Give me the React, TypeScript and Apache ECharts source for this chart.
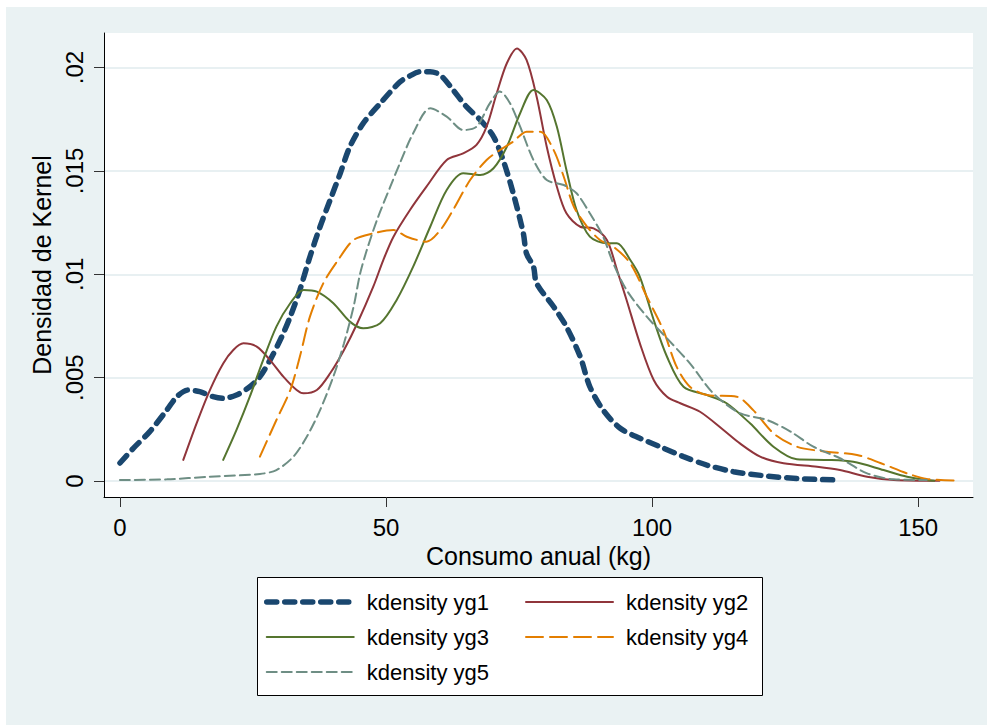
import React, { useEffect, useRef } from "react";
import * as echarts from "echarts";

const seriesNames = ["kdensity yg1", "kdensity yg2", "kdensity yg3", "kdensity yg4", "kdensity yg5"];
const xTicks = [0, 50, 100, 150];
const yTicks = [0, 0.005, 0.01, 0.015, 0.02];

const yg1: [number, number][] = [
  [0, 0.00087], [2.5, 0.00158], [5.6, 0.00239], [8.8, 0.00343], [10.7, 0.00408], [12.8, 0.0044],
  [15, 0.00432], [17.5, 0.00408], [19.4, 0.004], [21.9, 0.00416], [24.4, 0.00456], [26.3, 0.00505],
  [28.2, 0.00585], [30.4, 0.00698], [32, 0.00795], [33.8, 0.00924], [35.7, 0.01085], [37.6, 0.0123],
  [39.5, 0.0136], [41.4, 0.01489], [43.2, 0.01617], [45.7, 0.0173], [48.9, 0.01827], [52.6, 0.0193],
  [54.5, 0.0196], [56.4, 0.0198], [58.3, 0.0198], [60.2, 0.01964], [62.6, 0.01892], [65.1, 0.01811],
  [67.7, 0.01747], [70.2, 0.01666], [72, 0.01553], [73.9, 0.01392], [75.8, 0.01198], [76.4, 0.011],
  [77.7, 0.01037], [78.3, 0.00956], [81.5, 0.00843], [83.9, 0.00746], [86.5, 0.00601], [88.3, 0.00456],
  [90.8, 0.00343], [94, 0.00255], [97.7, 0.00207], [101.5, 0.00166], [105.9, 0.00118], [110.3, 0.00077],
  [115.3, 0.00045], [121.6, 0.00024], [127.8, 0.00011], [134.7, 0.00005],
];

const yg2: [number, number][] = [
  [11.9, 0.00102], [14.4, 0.00279], [16.9, 0.0044], [19.4, 0.00569], [21.3, 0.00634], [23.2, 0.00666],
  [25.7, 0.0065], [28.2, 0.00585], [30.7, 0.00505], [33.2, 0.0044], [34.5, 0.00424], [37, 0.0044],
  [39.5, 0.00521], [42.1, 0.00634], [44.6, 0.00763], [47.6, 0.0094], [49.5, 0.0107], [51.4, 0.01182],
  [54.5, 0.01311], [57.6, 0.01424], [61.4, 0.01553], [64.5, 0.01585], [67, 0.01626], [68.9, 0.01714],
  [70.8, 0.01876], [72.7, 0.02021], [74.6, 0.02093], [76.4, 0.02037], [78.3, 0.01859], [80.2, 0.01617],
  [82.1, 0.01424], [83.9, 0.01295], [86.5, 0.0123], [89, 0.01222], [91.5, 0.01166], [93.4, 0.01021],
  [95.2, 0.00876], [97.7, 0.00666], [100.3, 0.00489], [102.8, 0.00408], [105.3, 0.00376], [109, 0.00335],
  [113.4, 0.00247], [116.5, 0.00182], [120.3, 0.00118], [124.7, 0.00086], [131, 0.00069], [135.3, 0.00053],
  [140.4, 0.00021], [145.4, 0.00005], [154, 0.00001],
];

const yg3: [number, number][] = [
  [19.4, 0.00102], [21.9, 0.00247], [24.4, 0.00408], [26.9, 0.00585], [29.4, 0.00747], [32, 0.0086],
  [34.5, 0.00924], [37, 0.00916], [40.1, 0.0086], [43.2, 0.00771], [45.7, 0.00739], [48.9, 0.00763],
  [52, 0.00876], [55.1, 0.01037], [58.3, 0.0123], [61.4, 0.01408], [64.5, 0.01489], [67.7, 0.0148],
  [70.2, 0.01513], [72.7, 0.01617], [75.2, 0.01779], [77.7, 0.01892], [80.2, 0.01843], [82.1, 0.01714],
  [83.9, 0.01505], [85.8, 0.01311], [88.3, 0.01182], [91.5, 0.0115], [93.4, 0.0115], [95.9, 0.01069],
  [97.7, 0.00988], [100.3, 0.00779], [102.8, 0.00601], [105.9, 0.00456], [110.3, 0.00416], [114, 0.00376],
  [118.4, 0.00279], [122.8, 0.00166], [127.2, 0.00105], [132.8, 0.00102], [137.8, 0.00093], [143.5, 0.00053],
  [147.9, 0.00021], [151.6, 0.00005], [153, 0.00001],
];

const yg4: [number, number][] = [
  [26.3, 0.00118], [29.4, 0.00295], [32, 0.0044], [33.8, 0.00601], [35.7, 0.00795], [38.2, 0.00956],
  [41, 0.01069], [43.9, 0.01166], [47.6, 0.01198], [51.4, 0.01214], [53.9, 0.01182], [57.6, 0.01158],
  [60.2, 0.01214], [62.6, 0.01311], [65.8, 0.01456], [68.9, 0.01553], [71.4, 0.01601], [73.9, 0.01642],
  [76.4, 0.0169], [79, 0.0169], [81.5, 0.01601], [83.4, 0.01472], [85.3, 0.01327], [87.8, 0.0123],
  [90.2, 0.01166], [92.7, 0.01134], [95.9, 0.01053], [99, 0.00892], [102.1, 0.0073], [104.6, 0.00553],
  [107.1, 0.00456], [110.3, 0.00416], [115.9, 0.00408], [119, 0.00343], [122.8, 0.00231], [127.2, 0.00166],
  [132.8, 0.00142], [138.5, 0.00126], [143, 0.00086], [147.9, 0.00037], [151.6, 0.0001], [157.3, 0.00002],
];

const yg5: [number, number][] = [
  [0, 0.00005], [8.8, 0.00008], [16.9, 0.00021], [26.3, 0.00034], [29.4, 0.00053], [32.6, 0.00118],
  [35.1, 0.00214], [37.6, 0.00343], [40.1, 0.00505], [42.1, 0.00666], [43.9, 0.00843], [45.1, 0.01],
  [46.3, 0.0111], [48.3, 0.01263], [50.8, 0.01424], [52.6, 0.01537], [55.1, 0.01682], [58.3, 0.01803],
  [61.4, 0.01763], [64.5, 0.01698], [67, 0.01714], [69.5, 0.01827], [71.4, 0.01884], [73.3, 0.01827],
  [75.2, 0.01714], [77.7, 0.01553], [80.2, 0.01456], [83.4, 0.01432], [85.8, 0.01392], [88.3, 0.01295],
  [90.8, 0.01182], [92.7, 0.01053], [95.2, 0.00924], [99, 0.00795], [102.8, 0.0069], [107.1, 0.00569],
  [111.5, 0.00424], [116.5, 0.00328], [121.6, 0.00295], [126, 0.00239], [130.3, 0.00166], [135.3, 0.0011],
  [140.4, 0.00037], [145.4, 0.00008], [151.6, 0.00005],
];

const seriesData = [yg1, yg2, yg3, yg4, yg5];
const colors = ["#1A476F", "#90353B", "#55752F", "#E37E00", "#6E8E84"];
const widths = [5.5, 2, 2, 2, 2];
const dashes: (string | number[])[] = [[10, 8], "solid", "solid", [17, 7], [10, 5]];

const FONT = "'Liberation Sans', Arial, Helvetica, sans-serif";

export default function App() {
  const ref = useRef<HTMLDivElement>(null);
  useEffect(() => {
    if (!ref.current) return;
    const chart = echarts.init(ref.current, undefined, { renderer: "svg" });
    const legendCommon = {
      orient: "vertical",
      top: 591,
      padding: 0,
      itemWidth: 87,
      itemHeight: 14,
      itemGap: 13,
      selectedMode: false,
      itemStyle: { color: "transparent", borderColor: "transparent", borderWidth: 0, opacity: 0 },
      lineStyle: { width: "inherit", type: "inherit", cap: "inherit" },
      textStyle: {
        fontFamily: FONT,
        fontSize: 22,
        color: "#000",
        lineHeight: 22,
        padding: [0, 0, 0, 8],
      },
    };
    chart.setOption({
      animation: false,
      backgroundColor: "transparent",
      textStyle: { fontFamily: FONT },
      graphic: [
        {
          type: "rect",
          z: -10,
          silent: true,
          shape: { x: 6, y: 7, width: 981, height: 718 },
          style: { fill: "#EAF2F3" },
        },
        {
          type: "rect",
          z: 1,
          silent: true,
          shape: { x: 257.5, y: 577.5, width: 505, height: 118 },
          style: { fill: "#FFFFFF", stroke: "#000", lineWidth: 1 },
        },
      ],
      grid: {
        left: 104,
        right: 14,
        top: 33,
        bottom: 228,
        show: true,
        backgroundColor: "#FFFFFF",
        borderWidth: 0,
        containLabel: false,
      },
      legend: [
        { ...legendCommon, left: 264, data: [seriesNames[0], seriesNames[2], seriesNames[4]] },
        { ...legendCommon, left: 525, data: [seriesNames[1], seriesNames[3]] },
      ],
      xAxis: {
        type: "value",
        min: -3,
        max: 160.3,
        name: "Consumo anual (kg)",
        nameLocation: "middle",
        nameGap: 41,
        nameTextStyle: { fontFamily: FONT, fontSize: 25, color: "#000" },
        axisLine: { show: true, onZero: false, lineStyle: { color: "#000", width: 1 } },
        axisTick: { show: true, length: 10, customValues: xTicks, lineStyle: { color: "#333", width: 1 } },
        axisLabel: { customValues: xTicks, margin: 18, fontFamily: FONT, fontSize: 24, color: "#000" },
        splitLine: { show: false },
      },
      yAxis: {
        type: "value",
        min: -0.000774,
        max: 0.021674,
        name: "Densidad de Kernel",
        nameLocation: "middle",
        nameGap: 44,
        nameTextStyle: { fontFamily: FONT, fontSize: 25, color: "#000" },
        axisLine: { show: true, onZero: false, lineStyle: { color: "#000", width: 1 } },
        axisTick: { show: true, length: 10, customValues: yTicks, lineStyle: { color: "#333", width: 1 } },
        axisLabel: {
          customValues: yTicks,
          rotate: 90,
          margin: 18,
          fontFamily: FONT,
          fontSize: 24,
          color: "#000",
          formatter: (v: number) => (v === 0 ? "0" : String(v).replace(/^0/, "")),
        },
        splitLine: { show: true, lineStyle: { color: "#E8F0F2", width: 2 } },
      },
      series: seriesData.map((d, i) => ({
        name: seriesNames[i],
        type: "line",
        data: d,
        smooth: 0.3,
        symbol: "none",
        showSymbol: false,
        lineStyle: {
          color: colors[i],
          width: widths[i],
          type: dashes[i],
          cap: "round",
        },
        itemStyle: { color: colors[i] },
      })),
    });
    return () => chart.dispose();
  }, []);
  return (
    <div
      ref={ref}
      style={{ position: "absolute", left: 0, top: 0, width: 987, height: 725, background: "#FFFFFF" }}
    />
  );
}
